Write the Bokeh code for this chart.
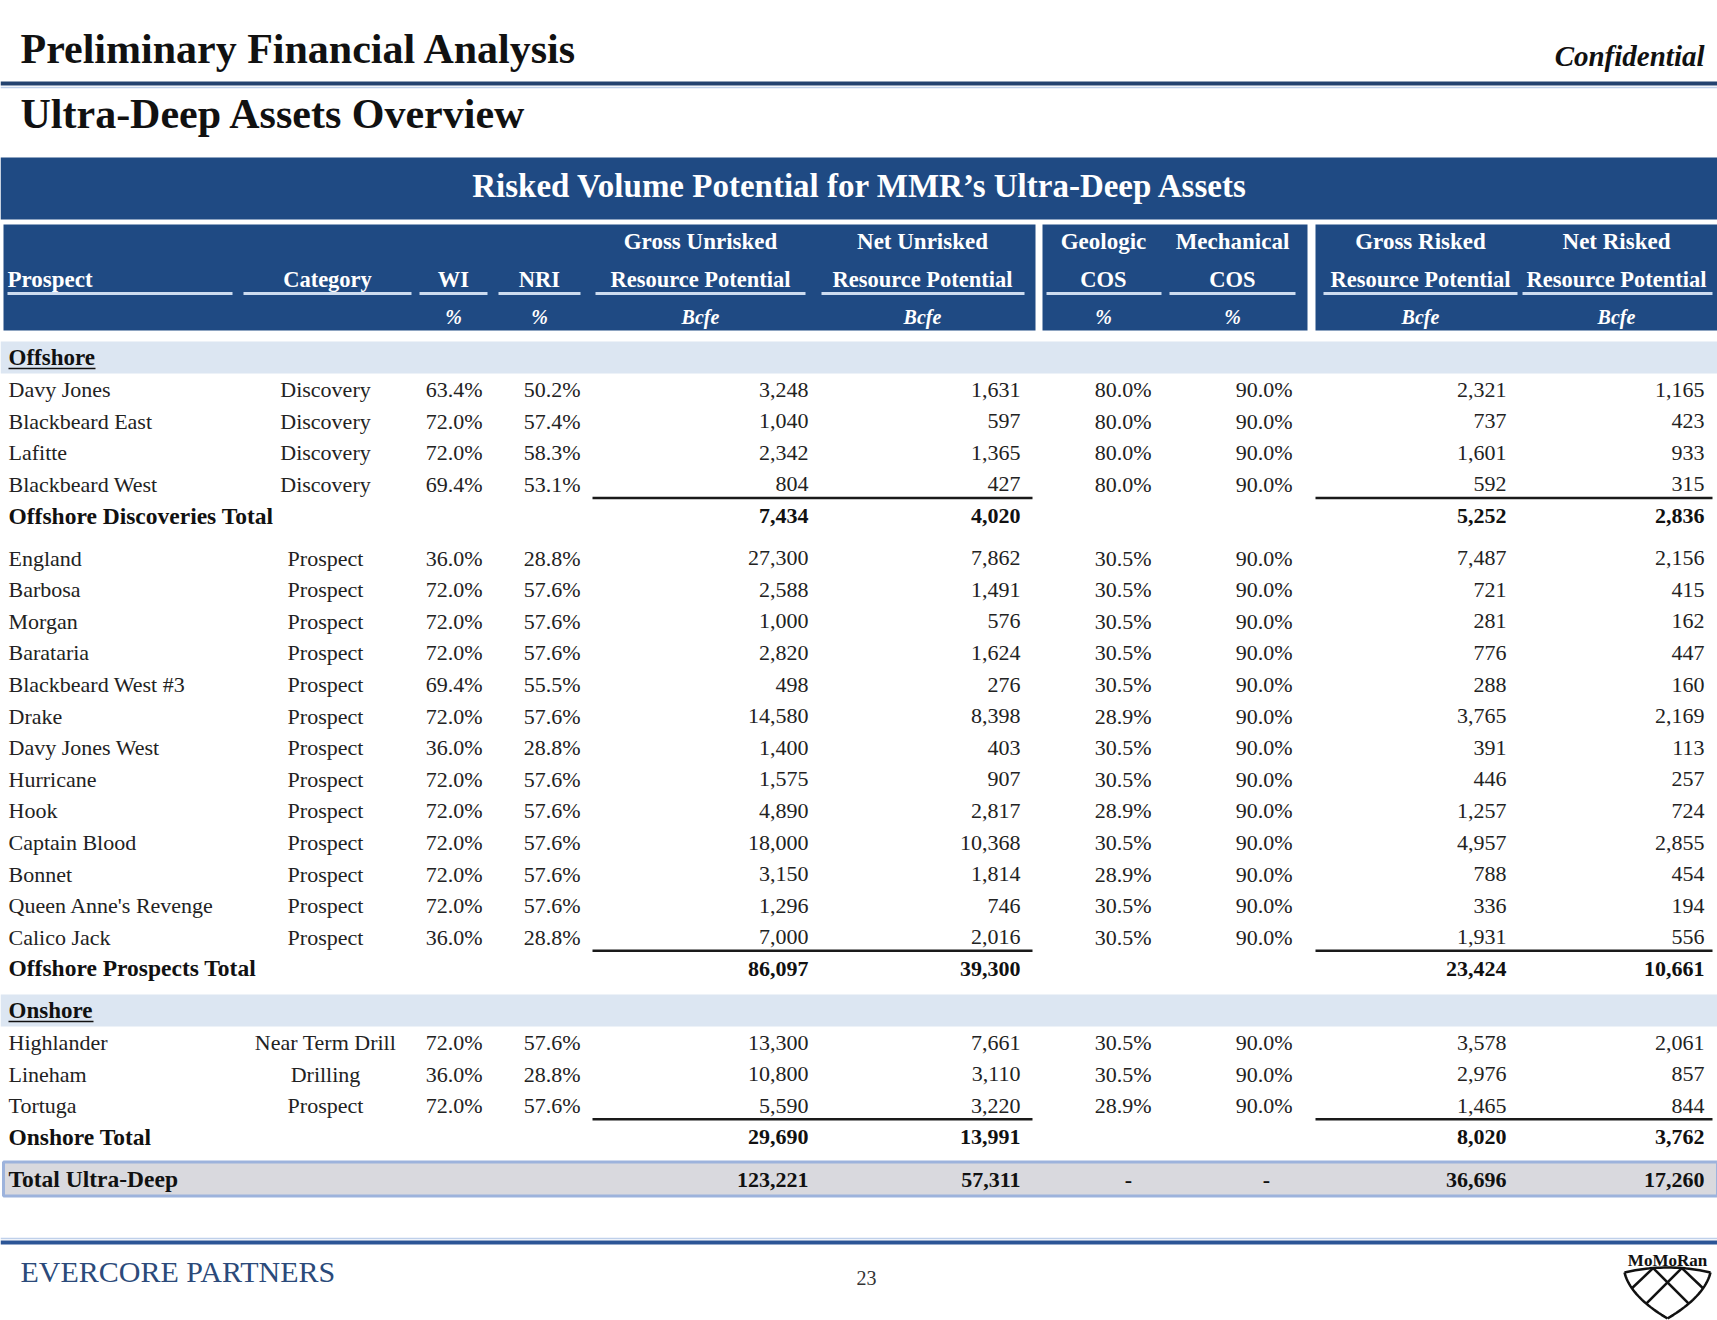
from bokeh.plotting import figure
from bokeh.models import ColumnDataSource, Range1d
from bokeh.core.properties import value
from bokeh.embed import file_html
from bokeh.resources import INLINE
import numpy as np

# ---------------- data ----------------
page_title = "Preliminary Financial Analysis"
page_subtitle = "Ultra-Deep Assets Overview"
table_title = "Risked Volume Potential for MMR\u2019s Ultra-Deep Assets"

hdr_top = ["Gross Unrisked", "Net Unrisked", "Geologic", "Mechanical", "Gross Risked", "Net Risked"]
hdr_mid = ["Prospect", "Category", "WI", "NRI", "Resource Potential", "Resource Potential",
           "COS", "COS", "Resource Potential", "Resource Potential"]
hdr_units = ["%", "%", "Bcfe", "Bcfe", "%", "%", "Bcfe", "Bcfe"]

disc_names = ["Davy Jones", "Blackbeard East", "Lafitte", "Blackbeard West"]
disc_cat = ["Discovery", "Discovery", "Discovery", "Discovery"]
disc_wi = [63.4, 72.0, 72.0, 69.4]
disc_nri = [50.2, 57.4, 58.3, 53.1]
disc_gu = [3248, 1040, 2342, 804]
disc_nu = [1631, 597, 1365, 427]
disc_geo = [80.0, 80.0, 80.0, 80.0]
disc_mech = [90.0, 90.0, 90.0, 90.0]
disc_gr = [2321, 737, 1601, 592]
disc_nr = [1165, 423, 933, 315]
disc_total = [7434, 4020, 5252, 2836]

pros_names = ["England", "Barbosa", "Morgan", "Barataria", "Blackbeard West #3", "Drake",
              "Davy Jones West", "Hurricane", "Hook", "Captain Blood", "Bonnet",
              "Queen Anne's Revenge", "Calico Jack"]
pros_cat = ["Prospect"] * 13
pros_wi = [36.0, 72.0, 72.0, 72.0, 69.4, 72.0, 36.0, 72.0, 72.0, 72.0, 72.0, 72.0, 36.0]
pros_nri = [28.8, 57.6, 57.6, 57.6, 55.5, 57.6, 28.8, 57.6, 57.6, 57.6, 57.6, 57.6, 28.8]
pros_gu = [27300, 2588, 1000, 2820, 498, 14580, 1400, 1575, 4890, 18000, 3150, 1296, 7000]
pros_nu = [7862, 1491, 576, 1624, 276, 8398, 403, 907, 2817, 10368, 1814, 746, 2016]
pros_geo = [30.5, 30.5, 30.5, 30.5, 30.5, 28.9, 30.5, 30.5, 28.9, 30.5, 28.9, 30.5, 30.5]
pros_mech = [90.0] * 13
pros_gr = [7487, 721, 281, 776, 288, 3765, 391, 446, 1257, 4957, 788, 336, 1931]
pros_nr = [2156, 415, 162, 447, 160, 2169, 113, 257, 724, 2855, 454, 194, 556]
pros_total = [86097, 39300, 23424, 10661]

on_names = ["Highlander", "Lineham", "Tortuga"]
on_cat = ["Near Term Drill", "Drilling", "Prospect"]
on_wi = [72.0, 36.0, 72.0]
on_nri = [57.6, 28.8, 57.6]
on_gu = [13300, 10800, 5590]
on_nu = [7661, 3110, 3220]
on_geo = [30.5, 30.5, 28.9]
on_mech = [90.0, 90.0, 90.0]
on_gr = [3578, 2976, 1465]
on_nr = [2061, 857, 844]
on_total = [29690, 13991, 8020, 3762]

grand_total = [123221, 57311, 36696, 17260]

# ---------------- layout ----------------
W, H = 1717, 1320
FONT = value("Liberation Serif")
NAVY = "#1f4a83"
LIGHT = "#cddcf0"
BASE_SHIFT = 0.34  # em, compensates the rendered baseline

p = figure(width=W, height=H, x_range=Range1d(0, W), y_range=Range1d(H, 0),
           output_backend="svg", toolbar_location=None, min_border=0,
           x_axis_location=None, y_axis_location=None)
p.grid.visible = False
p.outline_line_color = None
p.background_fill_color = "white"
p.border_fill_color = "white"


def txt(xs, ys, texts, align="left", size=22, style="normal", color="#222222"):
    ys = [y - BASE_SHIFT * size for y in ys]
    src = ColumnDataSource(dict(x=list(xs), y=ys, t=list(texts)))
    p.text(x="x", y="y", text="t", source=src, text_align=align, text_baseline="alphabetic",
           text_font=FONT, text_font_size=f"{size}px", text_font_style=style, text_color=color)


def box(l, r, t, b, fill, line=None, lw=0):
    p.quad(left=[l], right=[r], top=[t], bottom=[b], fill_color=fill,
           line_color=line, line_width=lw)


def hline(x0, x1, y, color, lw):
    p.segment(x0=[x0], y0=[y], x1=[x1], y1=[y], line_color=color, line_width=lw)


# page titles
txt([20], [63], [page_title], size=42, style="bold", color="#111111")
txt([1704], [65], ["Confidential"], align="right", size=29, style="bold italic", color="#111111")
hline(0, 1717, 83, "#23426f", 4)
hline(0, 1717, 87, "#bfd0ea", 1.5)
txt([20], [128], [page_subtitle], size=42, style="bold", color="#111111")

# header bands
box(0, 1717, 157, 219, NAVY)
txt([860], [197], [table_title], align="center", size=33, style="bold", color="white")
for l, r in [(3, 1035), (1042, 1307), (1315, 1717)]:
    box(l, r, 224, 330, NAVY)

col_x = dict(cat=327, wi=453, nri=539, gu=700, nu=922, geo=1103, mech=1232, gr=1420, nr=1616)
top_keys = ["gu", "nu", "geo", "mech", "gr", "nr"]
mid_keys = ["cat", "wi", "nri", "gu", "nu", "geo", "mech", "gr", "nr"]
unit_keys = ["wi", "nri", "gu", "nu", "geo", "mech", "gr", "nr"]
under_spans = [(7, 232), (243, 411), (419, 487), (498, 580), (595, 805), (821, 1024),
               (1046, 1161), (1169, 1295), (1323, 1517), (1522, 1712)]

txt([col_x[k] for k in top_keys], [249] * 6, hdr_top, align="center", size=23, style="bold", color="white")
txt([7], [287], hdr_mid[:1], align="left", size=23, style="bold", color="white")
txt([col_x[k] for k in mid_keys], [287] * 9, hdr_mid[1:], align="center", size=22.5, style="bold",
    color="white")
p.segment(x0=[a for a, b in under_spans], x1=[b for a, b in under_spans], y0=[293] * 10, y1=[293] * 10,
          line_color=LIGHT, line_width=3)
txt([col_x[k] for k in unit_keys], [323] * 8, hdr_units, align="center", size=20, style="bold italic",
    color="white")

# row geometry
Y0, PITCH, GAP = 365, 31.6, 10.5


def row_y(slot, gaps):
    return Y0 + slot * PITCH + gaps * GAP


right_x = dict(wi=482, nri=580, gu=808, nu=1020, geo=1151, mech=1292, gr=1506, nr=1704)
CAT_X = 325


def pct(v):
    return f"{v:.1f}%"


def num(v):
    return f"{v:,}"


def section(label, slot, gaps, wtext):
    y = row_y(slot, gaps)
    box(0, 1717, y - 24, y + 8, "#dce6f2")
    txt([8], [y], [label], size=23, style="bold", color="#111111")
    hline(8, 8 + wtext, y + 3, "#111111", 1.5)


def items(names, cats, wi, nri, gu, nu, geo, mech, gr, nr, slot0, gaps):
    ys = [row_y(slot0 + i, gaps) for i in range(len(names))]
    txt([8] * len(ys), ys, names)
    txt([CAT_X] * len(ys), ys, cats, align="center")
    for key, vals, f in [("wi", wi, pct), ("nri", nri, pct), ("gu", gu, num), ("nu", nu, num),
                         ("geo", geo, pct), ("mech", mech, pct), ("gr", gr, num), ("nr", nr, num)]:
        txt([right_x[key]] * len(ys), ys, [f(v) for v in vals], align="right")
    return ys[-1]


def total(label, vals, slot, gaps, last_y, rule=True):
    y = row_y(slot, gaps)
    if rule:
        hline(592, 1032, last_y + 6, "#1a1a1a", 2.5)
        hline(1315, 1712, last_y + 6, "#1a1a1a", 2.5)
    txt([8], [y], [label], size=23.5, style="bold", color="#111111")
    txt([right_x[k] for k in ["gu", "nu", "gr", "nr"]], [y] * 4, [num(v) for v in vals],
        align="right", style="bold", color="#111111")
    return y


section("Offshore", 0, 0, 87)
ly = items(disc_names, disc_cat, disc_wi, disc_nri, disc_gu, disc_nu, disc_geo, disc_mech,
           disc_gr, disc_nr, 1, 0)
total("Offshore Discoveries Total", disc_total, 5, 0, ly)
ly = items(pros_names, pros_cat, pros_wi, pros_nri, pros_gu, pros_nu, pros_geo, pros_mech,
           pros_gr, pros_nr, 6, 1)
total("Offshore Prospects Total", pros_total, 19, 1, ly)
section("Onshore", 20, 2, 85)
ly = items(on_names, on_cat, on_wi, on_nri, on_gu, on_nu, on_geo, on_mech, on_gr, on_nr, 21, 2)
total("Onshore Total", on_total, 24, 2, ly)

# grand total band
gy = row_y(25, 3)
box(3, 1717, gy - 25, gy + 9, "#d9d9de", "#9db3dc", 3)
total("Total Ultra-Deep", grand_total, 25, 3, gy, rule=False)
txt([1128, 1266], [gy, gy], ["-", "-"], align="center", style="bold", color="#111111")

# footer
hline(0, 1717, 1238, "#bfd0ea", 1.5)
hline(0, 1717, 1242, "#2c5596", 4)
txt([20], [1281], ["EVERCORE PARTNERS"], size=30, color="#2b4a7a")
txt([866], [1284], ["23"], align="center", size=20, color="#333333")

# MoMoRan logo
txt([1667], [1266], ["MoMoRan"], align="center", size=17, style="bold", color="#111111")
TLx, TLy, TRx, TRy, Bx, By = 1624, 1272, 1710, 1272, 1667, 1318
CT = (1667, 1262)
CL = (1630, 1296)
CR = (1704, 1296)


def qb(p0, c, p1, t):
    return (1 - t) ** 2 * p0 + 2 * (1 - t) * t * c + t ** 2 * p1


ts = np.linspace(0, 1, 25)
top_x = qb(TLx, CT[0], TRx, ts); top_y = qb(TLy, CT[1], TRy, ts)
left_x = qb(Bx, CL[0], TLx, ts); left_y = qb(By, CL[1], TLy, ts)
rgt_x = qb(Bx, CR[0], TRx, ts); rgt_y = qb(By, CR[1], TRy, ts)
xs_l = [list(top_x), list(left_x), list(rgt_x)]
ys_l = [list(top_y), list(left_y), list(rgt_y)]
for u in [1 / 3, 2 / 3]:
    tx = qb(TLx, CT[0], TRx, u); ty = qb(TLy, CT[1], TRy, u)
    rx = qb(Bx, CR[0], TRx, u); ry = qb(By, CR[1], TRy, u)
    lx = qb(Bx, CL[0], TLx, 1 - u); lyy = qb(By, CL[1], TLy, 1 - u)
    xs_l += [[tx, rx], [tx, lx]]
    ys_l += [[ty, ry], [ty, lyy]]
p.multi_line(xs=xs_l, ys=ys_l, line_color="#111111", line_width=2.5)

open("out.html", "w").write(file_html(p, INLINE))
